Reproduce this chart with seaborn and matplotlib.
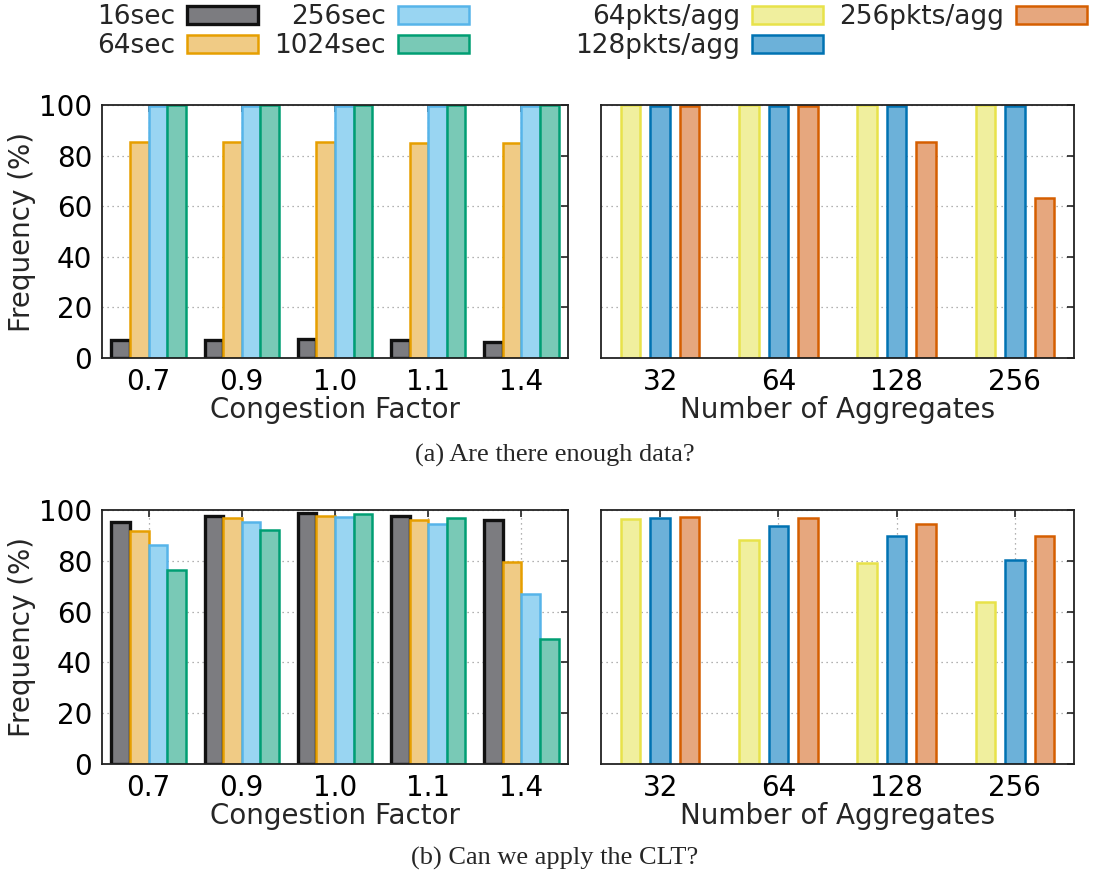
import numpy as np
import pandas as pd
import matplotlib
matplotlib.use("Agg")
import matplotlib.pyplot as plt
from matplotlib.patches import Patch
import seaborn as sns

sns.set_theme(style="white")
plt.rcParams["font.family"] = ["DejaVu Sans"]

# ---- data ----
congestion = ["0.7", "0.9", "1.0", "1.1", "1.4"]
windows = ["16sec", "64sec", "256sec", "1024sec"]
aggregates = ["32", "64", "128", "256"]
pkt_levels = ["64pkts/agg", "128pkts/agg", "256pkts/agg"]

# (a) Are there enough data?
enough_16 = [7.1, 7.1, 7.4, 7.2, 6.2]
enough_64 = [85.2, 85.2, 85.5, 84.9, 84.8]
enough_256 = [99.6, 99.6, 99.6, 99.6, 99.6]
enough_1024 = [100, 100, 100, 100, 100]
enough_64p = [100, 100, 100, 100]
enough_128p = [99.6, 99.6, 99.6, 99.6]
enough_256p = [99.6, 99.6, 85.4, 63.1]

# (b) Can we apply the CLT?
clt_16 = [95.1, 97.6, 98.8, 97.6, 96.1]
clt_64 = [91.6, 97.0, 97.8, 96.1, 79.5]
clt_256 = [86.1, 95.3, 97.2, 94.6, 66.8]
clt_1024 = [76.2, 92.1, 98.4, 96.8, 49.3]
clt_64p = [96.4, 88.2, 79.1, 63.6]
clt_128p = [96.7, 93.7, 89.8, 80.3]
clt_256p = [97.4, 96.7, 94.5, 89.8]

win_fill = ["#7c7c80", "#f0cb85", "#99d5f2", "#79c9b6"]
win_edge = ["#111111", "#e69f00", "#56b4e9", "#009e73"]
win_lw = [2.4, 1.8, 1.8, 1.8]
pkt_fill = ["#f0ef9e", "#6cb1d9", "#e6a77e"]
pkt_edge = ["#e8e24a", "#0072b2", "#d55e00"]
pkt_lw = [1.8, 1.8, 1.8]

FS = 20


def long_df(cats, levels, series, xname):
    rows = []
    for lvl, vals in zip(levels, series):
        for c, v in zip(cats, vals):
            rows.append({xname: c, "group": lvl, "value": v})
    return pd.DataFrame(rows)


def style_axes(ax, show_ylabels):
    ax.set_ylim(0, 100)
    ax.set_yticks([0, 20, 40, 60, 80, 100])
    ax.set_axisbelow(True)
    ax.grid(True, linestyle=(0, (1, 3)), color="#999999", lw=0.9)
    ax.tick_params(direction="in", top=True, right=True, length=5, width=1.2,
                   labelsize=FS, pad=7, colors="#222222", labelcolor="black")
    for s in ax.spines.values():
        s.set_visible(True)
        s.set_color("#222222")
        s.set_linewidth(1.3)
    if show_ylabels:
        ax.set_ylabel("Frequency (%)", fontsize=FS, labelpad=2)
    else:
        ax.set_ylabel("")
        ax.tick_params(labelleft=False)


def draw(ax, df, xname, order, levels, fills, edges, lws, width, gap, xlabel):
    sns.barplot(data=df, x=xname, y="value", hue="group", order=order,
                hue_order=levels, palette=fills, width=width, gap=gap,
                ax=ax, legend=False, errorbar=None, saturation=1)
    for cont, ec, lw in zip(ax.containers, edges, lws):
        for bar in cont:
            bar.set_edgecolor(ec)
            bar.set_linewidth(lw)
    ax.set_xlim(-0.5, len(order) - 0.5)
    ax.set_xlabel(xlabel, fontsize=FS, labelpad=0)


fig = plt.figure(figsize=(11.09, 8.74), dpi=100)
W, H = 1109, 874


def axes_px(x0, x1, ytop, ybot):
    return fig.add_axes([x0 / W, 1 - ybot / H, (x1 - x0) / W, (ybot - ytop) / H])


ax_a1 = axes_px(102, 568, 105, 358)
ax_a2 = axes_px(601, 1074, 105, 358)
ax_b1 = axes_px(102, 568, 510, 764)
ax_b2 = axes_px(601, 1074, 510, 764)

df_a1 = long_df(congestion, windows, [enough_16, enough_64, enough_256, enough_1024], "cf")
df_a2 = long_df(aggregates, pkt_levels, [enough_64p, enough_128p, enough_256p], "agg")
df_b1 = long_df(congestion, windows, [clt_16, clt_64, clt_256, clt_1024], "cf")
df_b2 = long_df(aggregates, pkt_levels, [clt_64p, clt_128p, clt_256p], "agg")

draw(ax_a1, df_a1, "cf", congestion, windows, win_fill, win_edge, win_lw, 0.8, 0, "Congestion Factor")
draw(ax_a2, df_a2, "agg", aggregates, pkt_levels, pkt_fill, pkt_edge, pkt_lw, 0.75, 0.34, "Number of Aggregates")
draw(ax_b1, df_b1, "cf", congestion, windows, win_fill, win_edge, win_lw, 0.8, 0, "Congestion Factor")
draw(ax_b2, df_b2, "agg", aggregates, pkt_levels, pkt_fill, pkt_edge, pkt_lw, 0.75, 0.34, "Number of Aggregates")

style_axes(ax_a1, True)
style_axes(ax_a2, False)
style_axes(ax_b1, True)
style_axes(ax_b2, False)

# legends (gnuplot style: label then swatch)
h_win = [Patch(facecolor=f, edgecolor=e, lw=lw, label=l)
         for f, e, lw, l in zip(win_fill, win_edge, win_lw, windows)]
h_pkt = [Patch(facecolor=f, edgecolor=e, lw=lw, label=l)
         for f, e, lw, l in zip(pkt_fill, pkt_edge, pkt_lw, pkt_levels)]
leg_kw = dict(ncol=2, markerfirst=False, frameon=False, fontsize=19, loc="upper left",
              handlelength=2.7, handleheight=0.65, handletextpad=0.45,
              columnspacing=0.6, labelspacing=0.12, borderaxespad=0, borderpad=0)
fig.legend(handles=h_win, bbox_to_anchor=(97 / W, 1 - 4 / H), **leg_kw)
fig.legend(handles=h_pkt, bbox_to_anchor=(575 / W, 1 - 4 / H), **leg_kw)

cap_font = ["Liberation Serif", "DejaVu Serif"]
fig.text(0.5, 1 - 455 / H, "(a) Are there enough data?", ha="center", va="center",
         fontsize=19, family=cap_font)
fig.text(0.5, 1 - 858 / H, "(b) Can we apply the CLT?", ha="center", va="center",
         fontsize=19, family=cap_font)

fig.savefig("out.png", dpi=100)
